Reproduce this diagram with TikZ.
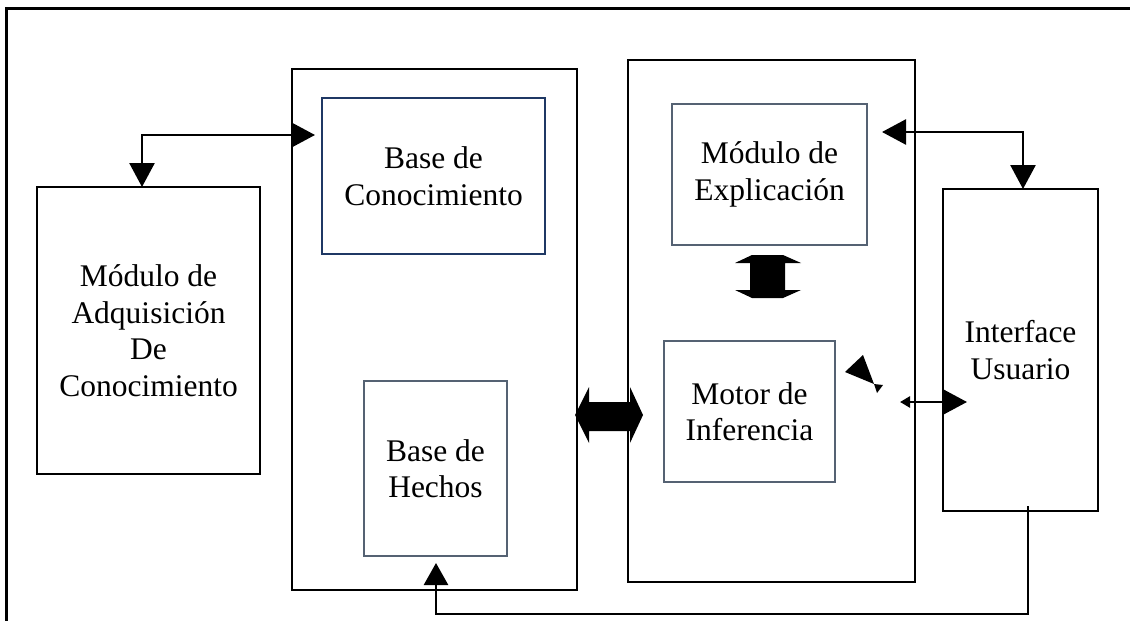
\documentclass[tikz,border=0pt]{standalone}
\usepackage{fontspec}
\setmainfont{Liberation Serif}
\usetikzlibrary{arrows.meta,calc}
\definecolor{navyline}{RGB}{31,56,100}
\definecolor{slateline}{RGB}{85,98,115}
\tikzset{
  blackbox/.style={draw=black,line width=2.8pt,outer sep=0pt,inner sep=0pt,align=center,
    font=\fontsize{31.5pt}{36.5pt}\selectfont},
  navybox/.style={blackbox,draw=navyline,line width=2.5pt},
  slatebox/.style={blackbox,draw=slateline,line width=2.4pt},
  conn/.style={draw=black,line width=2.6pt},
  bigtip/.tip={Triangle[length=24pt,width=25pt]},
  smalltip/.tip={Triangle[length=10pt,width=11pt]},
  uptip/.tip={Triangle[length=22pt,width=24pt]},
  frame/.style={draw=black,line width=3pt},
  blockarrow/.style={fill=black}
}
\begin{document}
\begin{tikzpicture}[x=1pt,y=-1pt]
\useasboundingbox (0,0) rectangle (1130,621);
% outer frame (top and left edges)
\draw[frame] (1130,8) -- (6,8) -- (6,621);

% containers
\node[blackbox,minimum width=285pt,minimum height=521pt] (kb) at (434.5,329.5) {};
\node[blackbox,minimum width=287pt,minimum height=522pt] (ie) at (771.5,321) {};

% modules
\node[blackbox,minimum width=223pt,minimum height=287pt] (adq) at (148.5,330.5)
  {Módulo de\\Adquisición\\De\\Conocimiento};
\node[navybox,minimum width=223pt,minimum height=156pt] (bc) at (433.5,176)
  {Base de\\Conocimiento};
\node[slatebox,minimum width=143pt,minimum height=175pt] (bh) at (435.5,468.5)
  {Base de\\Hechos};
\node[slatebox,minimum width=195pt,minimum height=141pt] (exp) at (769.5,174.5)
  {Módulo de\\Explicación};
\node[slatebox,minimum width=171pt,minimum height=141pt] (mot) at (749.5,411.5)
  {Motor de\\Inferencia};
\node[blackbox,minimum width=155pt,minimum height=322pt] (ui) at (1020.5,350)
  {Interface\\Usuario};

% connector coordinates
\coordinate (a1) at (142,135);
\coordinate (b1) at (1023,132);
\coordinate (c1) at (900,402);
\coordinate (c2) at (967,402);
\coordinate (d0) at (1028,506);
\coordinate (d1) at (1028,614);
\coordinate (d2) at (436,614);

% Adquisicion <-> Base de Conocimiento
\draw[conn,bigtip-bigtip,shorten >=7pt] (adq.north -| a1) -- (a1) -- (bc.west |- a1);
% Explicacion <-> Interface
\draw[conn,bigtip-bigtip,shorten <=15pt] (exp.east |- b1) -- (b1) -- (ui.north -| b1);
% Motor <-> Interface
\draw[conn,smalltip-bigtip] (c1) -- (c2);
% Interface -> Base de Hechos
\draw[conn,-uptip,shorten >=7pt] (d0) -- (d1) -- (d2) -- (bh.south -| d2);

% thick vertical double arrow (Explicacion <-> Motor)
\fill[blockarrow] (752,255) -- (783,255) -- (801,263) -- (785,263) -- (785,290) -- (801,290)
  -- (783,298) -- (752,298) -- (735,290) -- (750,290) -- (750,263) -- (735,263) -- cycle;
% thick horizontal double arrow (Base <-> Motor)
\fill[blockarrow] (575,415) -- (589,387) -- (589,402) -- (630,402) -- (630,387) -- (643,415)
  -- (630,443) -- (630,431) -- (589,431) -- (589,443) -- cycle;
% bow-tie arrowheads near Motor de Inferencia
\fill[blockarrow] (845,372) -- (863,355) -- (874,384) -- cycle;
\fill[blockarrow] (874,384) -- (883,385) -- (877,393) -- cycle;
\end{tikzpicture}
\end{document}
